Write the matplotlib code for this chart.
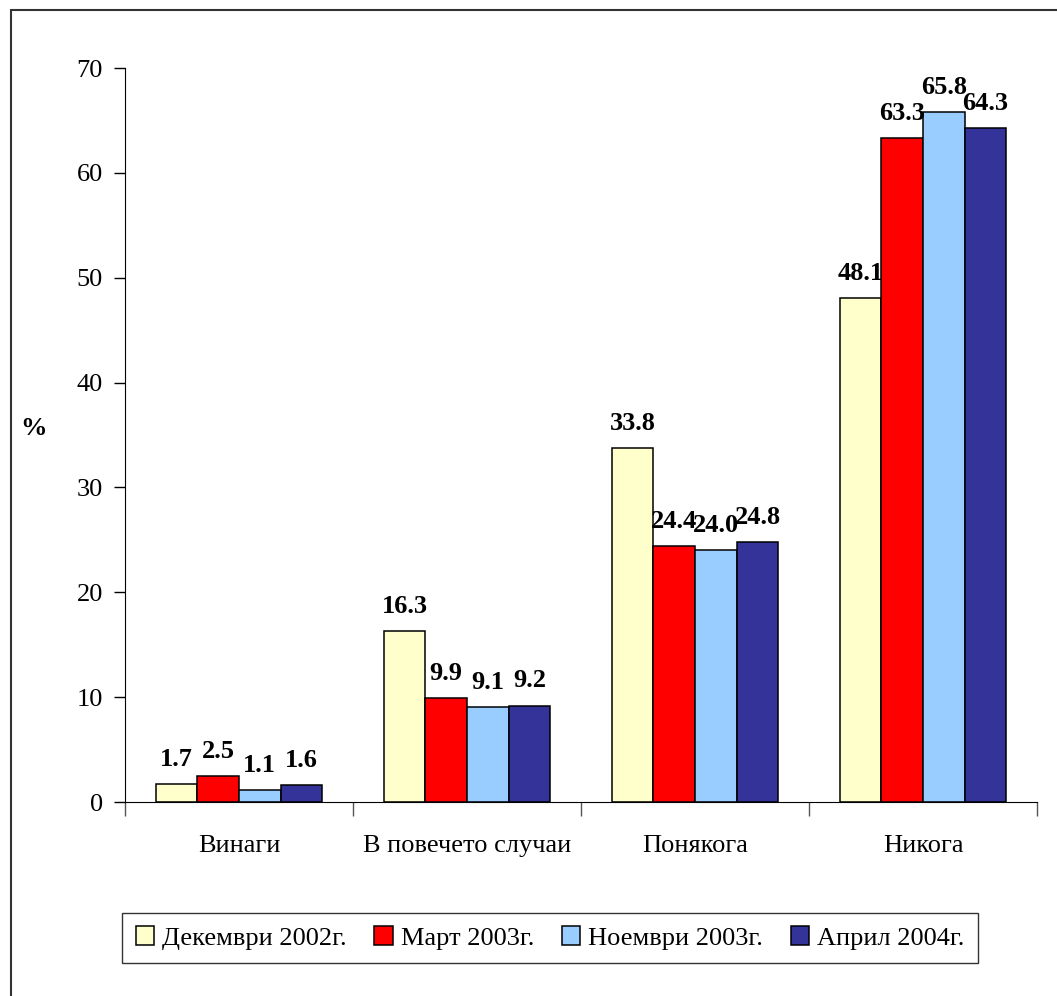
import matplotlib.pyplot as plt
import numpy as np
from matplotlib.patches import Rectangle

categories = ['Винаги', 'В повечето случаи', 'Понякога', 'Никога']
series = ['Декември 2002г.', 'Март 2003г.', 'Ноември 2003г.', 'Април 2004г.']
dec2002 = [1.7, 16.3, 33.8, 48.1]
mar2003 = [2.5, 9.9, 24.4, 63.3]
nov2003 = [1.1, 9.1, 24.0, 65.8]
apr2004 = [1.6, 9.2, 24.8, 64.3]
colors = ['#FFFFCC', '#FF0000', '#99CCFF', '#333399']

plt.rcParams['font.family'] = ['Liberation Serif', 'DejaVu Serif']

fig = plt.figure(figsize=(10.57, 9.96), dpi=100)
W, H = 1057, 996
ax = fig.add_axes([125 / W, 1 - 802 / H, (1037 - 125) / W, (802 - 68) / H])

x = np.arange(len(categories))
bw = 0.183
for i, (vals, lab, c) in enumerate(zip([dec2002, mar2003, nov2003, apr2004], series, colors)):
    pos = x + (i - 1.5) * bw
    ax.bar(pos, vals, bw, color=c, edgecolor='black', linewidth=1.1, label=lab)
    for p, v in zip(pos, vals):
        ax.annotate(f'{v:.1f}', (p, v), xytext=(0, 13), textcoords='offset points',
                    ha='center', va='baseline', fontsize=19, fontweight='bold')

ax.set_xlim(-0.5, 3.5)
ax.set_ylim(0, 70)
ax.set_yticks(range(0, 71, 10))
ax.tick_params(axis='y', labelsize=19, length=8, width=1, pad=8)
ax.set_xticks(x)
ax.set_xticklabels(categories)
ax.tick_params(axis='x', which='major', length=0, labelsize=19, pad=24)
ax.set_xticks(np.arange(-0.5, 4, 1), minor=True)
ax.tick_params(axis='x', which='minor', length=10, width=1, color='#555555')
for s in ['top', 'right']:
    ax.spines[s].set_visible(False)

fig.text(20 / W, 1 - 428 / H, '%', fontsize=19, fontweight='bold', va='center', ha='left')

leg = fig.legend(loc='center', bbox_to_anchor=(550 / W, 1 - 938 / H), ncol=4,
                 fontsize=19, frameon=True, fancybox=False, edgecolor='black',
                 handlelength=0.7, handleheight=0.7, handletextpad=0.3,
                 columnspacing=1.05, borderpad=0.5)
leg.get_frame().set_linewidth(1.0)

fig.patches.append(Rectangle((11 / W, -0.1), 1.2, 1.1 - 10 / H, transform=fig.transFigure,
                             fill=False, edgecolor='#333333', linewidth=1.5))

fig.savefig('out.png', dpi=100)
